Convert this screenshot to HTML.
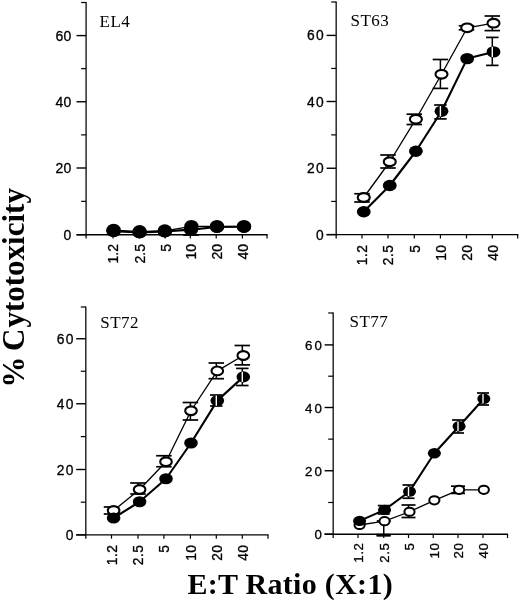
<!DOCTYPE html>
<html lang="en"><head><meta charset="utf-8"><title>% Cytotoxicity vs E:T Ratio</title>
<style>html,body{margin:0;padding:0;background:#fff}svg{display:block}.s{font-family:"Liberation Sans",Arial,Helvetica,sans-serif;fill:#000;stroke:#000;stroke-width:0.3px}.t{font-family:"Liberation Serif","Times New Roman",Times,serif;fill:#000}.b{font-family:"Liberation Serif","Times New Roman",Times,serif;font-weight:bold;fill:#000}</style></head><body>
<svg width="520" height="602" viewBox="0 0 520 602">
<rect width="520" height="602" fill="#fff"/>
<line x1="86.10" y1="1.90" x2="86.10" y2="238.60" stroke="#222" stroke-width="1.45"/>
<line x1="76.50" y1="234.70" x2="267.60" y2="234.70" stroke="#000" stroke-width="1.4"/>
<line x1="76.50" y1="234.70" x2="86.10" y2="234.70" stroke="#000" stroke-width="1.4"/>
<text class="s" x="71.20" y="239.70" font-size="14" text-anchor="end" letter-spacing="0">0</text>
<line x1="76.50" y1="168.00" x2="86.10" y2="168.00" stroke="#000" stroke-width="1.4"/>
<text class="s" x="71.20" y="173.00" font-size="14" text-anchor="end" letter-spacing="0">20</text>
<line x1="76.50" y1="101.75" x2="86.10" y2="101.75" stroke="#000" stroke-width="1.4"/>
<text class="s" x="71.20" y="106.75" font-size="14" text-anchor="end" letter-spacing="0">40</text>
<line x1="76.50" y1="35.60" x2="86.10" y2="35.60" stroke="#000" stroke-width="1.4"/>
<text class="s" x="71.20" y="40.60" font-size="14" text-anchor="end" letter-spacing="0">60</text>
<line x1="81.10" y1="201.35" x2="86.10" y2="201.35" stroke="#000" stroke-width="1.2"/>
<line x1="81.10" y1="134.88" x2="86.10" y2="134.88" stroke="#000" stroke-width="1.2"/>
<line x1="81.10" y1="68.67" x2="86.10" y2="68.67" stroke="#000" stroke-width="1.2"/>
<line x1="81.10" y1="2.50" x2="86.10" y2="2.50" stroke="#000" stroke-width="1.2"/>
<line x1="113.00" y1="234.70" x2="113.00" y2="238.50" stroke="#000" stroke-width="1.2"/>
<text class="s" transform="translate(118.40,244.00) rotate(-90)" font-size="14" text-anchor="end" letter-spacing="0">1.2</text>
<line x1="139.50" y1="234.70" x2="139.50" y2="238.50" stroke="#000" stroke-width="1.2"/>
<text class="s" transform="translate(144.90,244.00) rotate(-90)" font-size="14" text-anchor="end" letter-spacing="0">2.5</text>
<line x1="165.20" y1="234.70" x2="165.20" y2="238.50" stroke="#000" stroke-width="1.2"/>
<text class="s" transform="translate(170.60,244.00) rotate(-90)" font-size="14" text-anchor="end" letter-spacing="0">5</text>
<line x1="190.30" y1="234.70" x2="190.30" y2="238.50" stroke="#000" stroke-width="1.2"/>
<text class="s" transform="translate(195.70,244.00) rotate(-90)" font-size="14" text-anchor="end" letter-spacing="0">10</text>
<line x1="216.20" y1="234.70" x2="216.20" y2="238.50" stroke="#000" stroke-width="1.2"/>
<text class="s" transform="translate(221.60,244.00) rotate(-90)" font-size="14" text-anchor="end" letter-spacing="0">20</text>
<line x1="242.40" y1="234.70" x2="242.40" y2="238.50" stroke="#000" stroke-width="1.2"/>
<text class="s" transform="translate(247.80,244.00) rotate(-90)" font-size="14" text-anchor="end" letter-spacing="0">40</text>
<line x1="267.00" y1="234.70" x2="267.00" y2="238.50" stroke="#000" stroke-width="1.2"/>
<text class="t" x="99.6" y="26.6" font-size="17" letter-spacing="0.45">EL4</text>
<polyline points="113.60,230.20 139.60,231.60 164.80,230.80 191.40,226.40 217.00,226.40 244.00,226.40" fill="none" stroke="#000" stroke-width="1.3" stroke-linejoin="round"/>
<polyline points="113.60,231.20 139.60,232.40 164.80,231.40 191.00,229.60 217.00,227.00 244.00,226.80" fill="none" stroke="#000" stroke-width="2.1" stroke-linejoin="round"/>
<ellipse cx="113.60" cy="230.20" rx="7.2" ry="6.5" fill="#000"/>
<ellipse cx="139.60" cy="231.60" rx="7.2" ry="6.5" fill="#000"/>
<ellipse cx="164.80" cy="230.80" rx="7.2" ry="6.5" fill="#000"/>
<ellipse cx="191.40" cy="226.40" rx="7.2" ry="6.5" fill="#000"/>
<ellipse cx="217.00" cy="226.40" rx="7.2" ry="6.5" fill="#000"/>
<ellipse cx="244.00" cy="226.40" rx="7.2" ry="6.5" fill="#000"/>
<ellipse cx="113.60" cy="231.20" rx="7.2" ry="6.1" fill="#000"/>
<ellipse cx="139.60" cy="232.40" rx="7.2" ry="6.1" fill="#000"/>
<ellipse cx="164.80" cy="231.40" rx="7.2" ry="6.1" fill="#000"/>
<ellipse cx="191.00" cy="229.60" rx="7.2" ry="6.1" fill="#000"/>
<ellipse cx="217.00" cy="227.00" rx="7.2" ry="6.1" fill="#000"/>
<ellipse cx="244.00" cy="226.80" rx="7.2" ry="6.1" fill="#000"/>
<line x1="183.00" y1="235.00" x2="199.00" y2="235.00" stroke="#000" stroke-width="1.8"/>
<line x1="106.50" y1="230.50" x2="110.00" y2="230.50" stroke="#000" stroke-width="1.6"/>
<line x1="336.20" y1="1.40" x2="336.20" y2="238.50" stroke="#222" stroke-width="1.45"/>
<line x1="326.60" y1="234.60" x2="518.30" y2="234.60" stroke="#000" stroke-width="1.4"/>
<line x1="326.60" y1="234.60" x2="336.20" y2="234.60" stroke="#000" stroke-width="1.4"/>
<text class="s" x="324.80" y="239.60" font-size="13.8" text-anchor="end" letter-spacing="1.2">0</text>
<line x1="326.60" y1="168.25" x2="336.20" y2="168.25" stroke="#000" stroke-width="1.4"/>
<text class="s" x="324.80" y="173.25" font-size="13.8" text-anchor="end" letter-spacing="1.2">20</text>
<line x1="326.60" y1="101.50" x2="336.20" y2="101.50" stroke="#000" stroke-width="1.4"/>
<text class="s" x="324.80" y="106.50" font-size="13.8" text-anchor="end" letter-spacing="1.2">40</text>
<line x1="326.60" y1="35.40" x2="336.20" y2="35.40" stroke="#000" stroke-width="1.4"/>
<text class="s" x="324.80" y="40.40" font-size="13.8" text-anchor="end" letter-spacing="1.2">60</text>
<line x1="331.20" y1="201.43" x2="336.20" y2="201.43" stroke="#000" stroke-width="1.2"/>
<line x1="331.20" y1="134.88" x2="336.20" y2="134.88" stroke="#000" stroke-width="1.2"/>
<line x1="331.20" y1="68.45" x2="336.20" y2="68.45" stroke="#000" stroke-width="1.2"/>
<line x1="331.20" y1="2.00" x2="336.20" y2="2.00" stroke="#000" stroke-width="1.2"/>
<line x1="362.00" y1="234.60" x2="362.00" y2="238.40" stroke="#000" stroke-width="1.2"/>
<text class="s" transform="translate(367.40,244.50) rotate(-90)" font-size="13.8" text-anchor="end" letter-spacing="0.5">1.2</text>
<line x1="388.00" y1="234.60" x2="388.00" y2="238.40" stroke="#000" stroke-width="1.2"/>
<text class="s" transform="translate(393.40,244.50) rotate(-90)" font-size="13.8" text-anchor="end" letter-spacing="0.5">2.5</text>
<line x1="414.30" y1="234.60" x2="414.30" y2="238.40" stroke="#000" stroke-width="1.2"/>
<text class="s" transform="translate(419.70,244.50) rotate(-90)" font-size="13.8" text-anchor="end" letter-spacing="0.5">5</text>
<line x1="440.40" y1="234.60" x2="440.40" y2="238.40" stroke="#000" stroke-width="1.2"/>
<text class="s" transform="translate(445.80,244.50) rotate(-90)" font-size="13.8" text-anchor="end" letter-spacing="0.5">10</text>
<line x1="466.50" y1="234.60" x2="466.50" y2="238.40" stroke="#000" stroke-width="1.2"/>
<text class="s" transform="translate(471.90,244.50) rotate(-90)" font-size="13.8" text-anchor="end" letter-spacing="0.5">20</text>
<line x1="492.30" y1="234.60" x2="492.30" y2="238.40" stroke="#000" stroke-width="1.2"/>
<text class="s" transform="translate(497.70,244.50) rotate(-90)" font-size="13.8" text-anchor="end" letter-spacing="0.5">40</text>
<line x1="517.70" y1="234.60" x2="517.70" y2="238.40" stroke="#000" stroke-width="1.2"/>
<text class="t" x="350.6" y="26.2" font-size="17" letter-spacing="0.45">ST63</text>
<polyline points="363.75,197.50 389.75,161.75 415.90,119.20 441.50,74.30 467.20,27.80 493.50,23.20" fill="none" stroke="#000" stroke-width="1.3" stroke-linejoin="round"/>
<polyline points="363.75,211.75 389.75,185.50 415.90,151.25 441.50,111.20 467.20,58.60 493.50,51.90" fill="none" stroke="#000" stroke-width="2.1" stroke-linejoin="round"/>
<line x1="362.00" y1="193.75" x2="362.00" y2="202.00" stroke="#000" stroke-width="1.5"/>
<line x1="354.25" y1="193.75" x2="369.75" y2="193.75" stroke="#000" stroke-width="1.7"/>
<line x1="354.25" y1="202.00" x2="369.75" y2="202.00" stroke="#000" stroke-width="1.7"/>
<ellipse cx="363.75" cy="197.50" rx="6.0" ry="4.35" fill="#fff" stroke="#000" stroke-width="2.1"/>
<line x1="388.00" y1="155.00" x2="388.00" y2="168.00" stroke="#000" stroke-width="1.5"/>
<line x1="380.25" y1="155.00" x2="395.75" y2="155.00" stroke="#000" stroke-width="1.7"/>
<line x1="380.25" y1="168.00" x2="395.75" y2="168.00" stroke="#000" stroke-width="1.7"/>
<ellipse cx="389.75" cy="161.75" rx="6.0" ry="4.35" fill="#fff" stroke="#000" stroke-width="2.1"/>
<line x1="414.30" y1="114.20" x2="414.30" y2="124.50" stroke="#000" stroke-width="1.5"/>
<line x1="406.55" y1="114.20" x2="422.05" y2="114.20" stroke="#000" stroke-width="1.7"/>
<line x1="406.55" y1="124.50" x2="422.05" y2="124.50" stroke="#000" stroke-width="1.7"/>
<ellipse cx="415.90" cy="119.20" rx="6.0" ry="4.35" fill="#fff" stroke="#000" stroke-width="2.1"/>
<line x1="440.40" y1="59.50" x2="440.40" y2="88.40" stroke="#000" stroke-width="1.5"/>
<line x1="432.65" y1="59.50" x2="448.15" y2="59.50" stroke="#000" stroke-width="1.7"/>
<line x1="432.65" y1="88.40" x2="448.15" y2="88.40" stroke="#000" stroke-width="1.7"/>
<ellipse cx="441.50" cy="74.30" rx="6.0" ry="4.35" fill="#fff" stroke="#000" stroke-width="2.1"/>
<line x1="466.50" y1="25.80" x2="466.50" y2="29.80" stroke="#000" stroke-width="1.5"/>
<line x1="458.75" y1="25.80" x2="474.25" y2="25.80" stroke="#000" stroke-width="1.7"/>
<line x1="458.75" y1="29.80" x2="474.25" y2="29.80" stroke="#000" stroke-width="1.7"/>
<ellipse cx="467.20" cy="27.80" rx="6.0" ry="4.35" fill="#fff" stroke="#000" stroke-width="2.1"/>
<line x1="492.30" y1="16.00" x2="492.30" y2="30.60" stroke="#000" stroke-width="1.5"/>
<line x1="484.55" y1="16.00" x2="500.05" y2="16.00" stroke="#000" stroke-width="1.7"/>
<line x1="484.55" y1="30.60" x2="500.05" y2="30.60" stroke="#000" stroke-width="1.7"/>
<ellipse cx="493.50" cy="23.20" rx="6.0" ry="4.35" fill="#fff" stroke="#000" stroke-width="2.1"/>
<ellipse cx="363.75" cy="211.75" rx="6.9" ry="5.7" fill="#000"/>
<ellipse cx="389.75" cy="185.50" rx="6.9" ry="5.7" fill="#000"/>
<ellipse cx="415.90" cy="151.25" rx="6.9" ry="5.7" fill="#000"/>
<line x1="440.40" y1="105.00" x2="440.40" y2="118.90" stroke="#000" stroke-width="1.5"/>
<line x1="434.15" y1="105.00" x2="446.65" y2="105.00" stroke="#000" stroke-width="1.7"/>
<line x1="434.15" y1="118.90" x2="446.65" y2="118.90" stroke="#000" stroke-width="1.7"/>
<ellipse cx="441.50" cy="111.20" rx="6.9" ry="5.7" fill="#000"/>
<line x1="440.40" y1="106.00" x2="440.40" y2="116.40" stroke="#fff" stroke-width="1.4"/>
<ellipse cx="467.20" cy="58.60" rx="6.9" ry="5.7" fill="#000"/>
<line x1="492.30" y1="37.40" x2="492.30" y2="65.40" stroke="#000" stroke-width="1.5"/>
<line x1="486.05" y1="37.40" x2="498.55" y2="37.40" stroke="#000" stroke-width="1.7"/>
<line x1="486.05" y1="65.40" x2="498.55" y2="65.40" stroke="#000" stroke-width="1.7"/>
<ellipse cx="493.50" cy="51.90" rx="6.9" ry="5.7" fill="#000"/>
<line x1="492.30" y1="46.70" x2="492.30" y2="57.10" stroke="#fff" stroke-width="1.4"/>
<line x1="85.80" y1="306.40" x2="85.80" y2="538.80" stroke="#222" stroke-width="1.45"/>
<line x1="76.20" y1="534.90" x2="268.60" y2="534.90" stroke="#000" stroke-width="1.4"/>
<line x1="76.20" y1="534.90" x2="85.80" y2="534.90" stroke="#000" stroke-width="1.4"/>
<text class="s" x="75.00" y="539.90" font-size="13.8" text-anchor="end" letter-spacing="1.5">0</text>
<line x1="76.20" y1="469.50" x2="85.80" y2="469.50" stroke="#000" stroke-width="1.4"/>
<text class="s" x="75.00" y="474.50" font-size="13.8" text-anchor="end" letter-spacing="1.5">20</text>
<line x1="76.20" y1="403.75" x2="85.80" y2="403.75" stroke="#000" stroke-width="1.4"/>
<text class="s" x="75.00" y="408.75" font-size="13.8" text-anchor="end" letter-spacing="1.5">40</text>
<line x1="76.20" y1="338.75" x2="85.80" y2="338.75" stroke="#000" stroke-width="1.4"/>
<text class="s" x="75.00" y="343.75" font-size="13.8" text-anchor="end" letter-spacing="1.5">60</text>
<line x1="80.80" y1="502.20" x2="85.80" y2="502.20" stroke="#000" stroke-width="1.2"/>
<line x1="80.80" y1="436.62" x2="85.80" y2="436.62" stroke="#000" stroke-width="1.2"/>
<line x1="80.80" y1="371.25" x2="85.80" y2="371.25" stroke="#000" stroke-width="1.2"/>
<line x1="80.80" y1="307.00" x2="85.80" y2="307.00" stroke="#000" stroke-width="1.2"/>
<line x1="111.50" y1="534.90" x2="111.50" y2="538.70" stroke="#000" stroke-width="1.2"/>
<text class="s" transform="translate(116.90,544.50) rotate(-90)" font-size="13.8" text-anchor="end" letter-spacing="0.5">1.2</text>
<line x1="138.00" y1="534.90" x2="138.00" y2="538.70" stroke="#000" stroke-width="1.2"/>
<text class="s" transform="translate(143.40,544.50) rotate(-90)" font-size="13.8" text-anchor="end" letter-spacing="0.5">2.5</text>
<line x1="163.90" y1="534.90" x2="163.90" y2="538.70" stroke="#000" stroke-width="1.2"/>
<text class="s" transform="translate(169.30,544.50) rotate(-90)" font-size="13.8" text-anchor="end" letter-spacing="0.5">5</text>
<line x1="190.40" y1="534.90" x2="190.40" y2="538.70" stroke="#000" stroke-width="1.2"/>
<text class="s" transform="translate(195.80,544.50) rotate(-90)" font-size="13.8" text-anchor="end" letter-spacing="0.5">10</text>
<line x1="216.30" y1="534.90" x2="216.30" y2="538.70" stroke="#000" stroke-width="1.2"/>
<text class="s" transform="translate(221.70,544.50) rotate(-90)" font-size="13.8" text-anchor="end" letter-spacing="0.5">20</text>
<line x1="242.30" y1="534.90" x2="242.30" y2="538.70" stroke="#000" stroke-width="1.2"/>
<text class="s" transform="translate(247.70,544.50) rotate(-90)" font-size="13.8" text-anchor="end" letter-spacing="0.5">40</text>
<line x1="268.00" y1="534.90" x2="268.00" y2="538.70" stroke="#000" stroke-width="1.2"/>
<text class="t" x="100.3" y="328.4" font-size="17" letter-spacing="0.45">ST72</text>
<polyline points="113.60,510.50 139.60,489.50 166.00,461.75 191.00,410.75 217.30,370.90 243.30,355.50" fill="none" stroke="#000" stroke-width="1.3" stroke-linejoin="round"/>
<polyline points="113.60,518.00 139.60,501.75 166.00,478.75 191.00,443.00 217.30,400.60 243.30,376.90" fill="none" stroke="#000" stroke-width="2.1" stroke-linejoin="round"/>
<line x1="111.50" y1="507.00" x2="111.50" y2="514.00" stroke="#000" stroke-width="1.5"/>
<line x1="103.75" y1="507.00" x2="119.25" y2="507.00" stroke="#000" stroke-width="1.7"/>
<line x1="103.75" y1="514.00" x2="119.25" y2="514.00" stroke="#000" stroke-width="1.7"/>
<ellipse cx="113.60" cy="510.50" rx="5.8" ry="4.4" fill="#fff" stroke="#000" stroke-width="2.1"/>
<line x1="138.00" y1="483.00" x2="138.00" y2="494.00" stroke="#000" stroke-width="1.5"/>
<line x1="130.25" y1="483.00" x2="145.75" y2="483.00" stroke="#000" stroke-width="1.7"/>
<line x1="130.25" y1="494.00" x2="145.75" y2="494.00" stroke="#000" stroke-width="1.7"/>
<ellipse cx="139.60" cy="489.50" rx="5.8" ry="4.4" fill="#fff" stroke="#000" stroke-width="2.1"/>
<line x1="163.90" y1="455.75" x2="163.90" y2="466.75" stroke="#000" stroke-width="1.5"/>
<line x1="156.15" y1="455.75" x2="171.65" y2="455.75" stroke="#000" stroke-width="1.7"/>
<line x1="156.15" y1="466.75" x2="171.65" y2="466.75" stroke="#000" stroke-width="1.7"/>
<ellipse cx="166.00" cy="461.75" rx="5.8" ry="4.4" fill="#fff" stroke="#000" stroke-width="2.1"/>
<line x1="190.40" y1="402.50" x2="190.40" y2="420.00" stroke="#000" stroke-width="1.5"/>
<line x1="182.65" y1="402.50" x2="198.15" y2="402.50" stroke="#000" stroke-width="1.7"/>
<line x1="182.65" y1="420.00" x2="198.15" y2="420.00" stroke="#000" stroke-width="1.7"/>
<ellipse cx="191.00" cy="410.75" rx="5.8" ry="4.4" fill="#fff" stroke="#000" stroke-width="2.1"/>
<line x1="216.30" y1="363.00" x2="216.30" y2="378.70" stroke="#000" stroke-width="1.5"/>
<line x1="208.55" y1="363.00" x2="224.05" y2="363.00" stroke="#000" stroke-width="1.7"/>
<line x1="208.55" y1="378.70" x2="224.05" y2="378.70" stroke="#000" stroke-width="1.7"/>
<ellipse cx="217.30" cy="370.90" rx="5.8" ry="4.4" fill="#fff" stroke="#000" stroke-width="2.1"/>
<line x1="242.30" y1="345.50" x2="242.30" y2="364.90" stroke="#000" stroke-width="1.5"/>
<line x1="234.55" y1="345.50" x2="250.05" y2="345.50" stroke="#000" stroke-width="1.7"/>
<line x1="234.55" y1="364.90" x2="250.05" y2="364.90" stroke="#000" stroke-width="1.7"/>
<ellipse cx="243.30" cy="355.50" rx="5.8" ry="4.4" fill="#fff" stroke="#000" stroke-width="2.1"/>
<ellipse cx="113.60" cy="518.00" rx="6.8" ry="5.6" fill="#000"/>
<ellipse cx="139.60" cy="501.75" rx="6.8" ry="5.6" fill="#000"/>
<ellipse cx="166.00" cy="478.75" rx="6.8" ry="5.6" fill="#000"/>
<ellipse cx="191.00" cy="443.00" rx="6.8" ry="5.6" fill="#000"/>
<line x1="216.30" y1="395.00" x2="216.30" y2="406.00" stroke="#000" stroke-width="1.5"/>
<line x1="210.05" y1="395.00" x2="222.55" y2="395.00" stroke="#000" stroke-width="1.7"/>
<line x1="210.05" y1="406.00" x2="222.55" y2="406.00" stroke="#000" stroke-width="1.7"/>
<ellipse cx="217.30" cy="400.60" rx="6.8" ry="5.6" fill="#000"/>
<line x1="216.30" y1="395.50" x2="216.30" y2="405.70" stroke="#fff" stroke-width="1.4"/>
<line x1="242.30" y1="368.40" x2="242.30" y2="385.50" stroke="#000" stroke-width="1.5"/>
<line x1="236.05" y1="368.40" x2="248.55" y2="368.40" stroke="#000" stroke-width="1.7"/>
<line x1="236.05" y1="385.50" x2="248.55" y2="385.50" stroke="#000" stroke-width="1.7"/>
<ellipse cx="243.30" cy="376.90" rx="6.8" ry="5.6" fill="#000"/>
<line x1="242.30" y1="371.80" x2="242.30" y2="382.00" stroke="#fff" stroke-width="1.4"/>
<line x1="333.20" y1="312.40" x2="333.20" y2="538.10" stroke="#222" stroke-width="1.45"/>
<line x1="324.60" y1="534.20" x2="508.10" y2="534.20" stroke="#000" stroke-width="1.4"/>
<line x1="324.60" y1="534.20" x2="333.20" y2="534.20" stroke="#000" stroke-width="1.4"/>
<text class="s" x="323.80" y="539.20" font-size="13.3" text-anchor="end" letter-spacing="2.0">0</text>
<line x1="324.60" y1="470.75" x2="333.20" y2="470.75" stroke="#000" stroke-width="1.4"/>
<text class="s" x="323.80" y="475.75" font-size="13.3" text-anchor="end" letter-spacing="2.0">20</text>
<line x1="324.60" y1="407.50" x2="333.20" y2="407.50" stroke="#000" stroke-width="1.4"/>
<text class="s" x="323.80" y="412.50" font-size="13.3" text-anchor="end" letter-spacing="2.0">40</text>
<line x1="324.60" y1="344.90" x2="333.20" y2="344.90" stroke="#000" stroke-width="1.4"/>
<text class="s" x="323.80" y="349.90" font-size="13.3" text-anchor="end" letter-spacing="2.0">60</text>
<line x1="328.20" y1="502.48" x2="333.20" y2="502.48" stroke="#000" stroke-width="1.2"/>
<line x1="328.20" y1="439.12" x2="333.20" y2="439.12" stroke="#000" stroke-width="1.2"/>
<line x1="328.20" y1="376.20" x2="333.20" y2="376.20" stroke="#000" stroke-width="1.2"/>
<line x1="328.20" y1="313.00" x2="333.20" y2="313.00" stroke="#000" stroke-width="1.2"/>
<line x1="358.00" y1="534.20" x2="358.00" y2="538.00" stroke="#000" stroke-width="1.2"/>
<text class="s" transform="translate(363.40,542.40) rotate(-90)" font-size="13.3" text-anchor="end" letter-spacing="0.6">1.2</text>
<line x1="383.75" y1="534.20" x2="383.75" y2="538.00" stroke="#000" stroke-width="1.2"/>
<text class="s" transform="translate(389.15,542.40) rotate(-90)" font-size="13.3" text-anchor="end" letter-spacing="0.6">2.5</text>
<line x1="408.50" y1="534.20" x2="408.50" y2="538.00" stroke="#000" stroke-width="1.2"/>
<text class="s" transform="translate(413.90,542.40) rotate(-90)" font-size="13.3" text-anchor="end" letter-spacing="0.6">5</text>
<line x1="433.25" y1="534.20" x2="433.25" y2="538.00" stroke="#000" stroke-width="1.2"/>
<text class="s" transform="translate(438.65,542.40) rotate(-90)" font-size="13.3" text-anchor="end" letter-spacing="0.6">10</text>
<line x1="458.00" y1="534.20" x2="458.00" y2="538.00" stroke="#000" stroke-width="1.2"/>
<text class="s" transform="translate(463.40,542.40) rotate(-90)" font-size="13.3" text-anchor="end" letter-spacing="0.6">20</text>
<line x1="483.00" y1="534.20" x2="483.00" y2="538.00" stroke="#000" stroke-width="1.2"/>
<text class="s" transform="translate(488.40,542.40) rotate(-90)" font-size="13.3" text-anchor="end" letter-spacing="0.6">40</text>
<line x1="507.50" y1="534.20" x2="507.50" y2="538.00" stroke="#000" stroke-width="1.2"/>
<text class="t" x="349.6" y="326.9" font-size="17" letter-spacing="0.45">ST77</text>
<polyline points="359.60,525.00 384.55,521.20 409.50,511.75 434.35,500.30 459.10,489.80 483.80,489.80" fill="none" stroke="#000" stroke-width="1.3" stroke-linejoin="round"/>
<polyline points="359.60,520.90 384.55,509.90 409.50,491.50 434.35,453.25 459.10,426.25 483.80,398.75" fill="none" stroke="#000" stroke-width="2.1" stroke-linejoin="round"/>
<ellipse cx="359.60" cy="525.00" rx="5.1" ry="4.1" fill="#fff" stroke="#000" stroke-width="2.0"/>
<line x1="383.75" y1="521.00" x2="383.75" y2="535.30" stroke="#000" stroke-width="1.5"/>
<line x1="376.75" y1="521.00" x2="390.75" y2="521.00" stroke="#000" stroke-width="1.7"/>
<line x1="376.75" y1="535.30" x2="390.75" y2="535.30" stroke="#000" stroke-width="1.7"/>
<ellipse cx="384.55" cy="521.20" rx="5.1" ry="4.1" fill="#fff" stroke="#000" stroke-width="2.0"/>
<line x1="408.50" y1="505.00" x2="408.50" y2="517.50" stroke="#000" stroke-width="1.5"/>
<line x1="401.50" y1="505.00" x2="415.50" y2="505.00" stroke="#000" stroke-width="1.7"/>
<line x1="401.50" y1="517.50" x2="415.50" y2="517.50" stroke="#000" stroke-width="1.7"/>
<ellipse cx="409.50" cy="511.75" rx="5.1" ry="4.1" fill="#fff" stroke="#000" stroke-width="2.0"/>
<ellipse cx="434.35" cy="500.30" rx="5.1" ry="4.1" fill="#fff" stroke="#000" stroke-width="2.0"/>
<line x1="458.00" y1="486.20" x2="458.00" y2="493.40" stroke="#000" stroke-width="1.5"/>
<line x1="451.00" y1="486.20" x2="465.00" y2="486.20" stroke="#000" stroke-width="1.7"/>
<line x1="451.00" y1="493.40" x2="465.00" y2="493.40" stroke="#000" stroke-width="1.7"/>
<ellipse cx="459.10" cy="489.80" rx="5.1" ry="4.1" fill="#fff" stroke="#000" stroke-width="2.0"/>
<ellipse cx="483.80" cy="489.80" rx="5.1" ry="4.1" fill="#fff" stroke="#000" stroke-width="2.0"/>
<ellipse cx="359.60" cy="520.90" rx="6.5" ry="5.2" fill="#000"/>
<line x1="383.75" y1="505.60" x2="383.75" y2="514.00" stroke="#000" stroke-width="1.5"/>
<line x1="377.75" y1="505.60" x2="389.75" y2="505.60" stroke="#000" stroke-width="1.7"/>
<line x1="377.75" y1="514.00" x2="389.75" y2="514.00" stroke="#000" stroke-width="1.7"/>
<ellipse cx="384.55" cy="509.90" rx="6.5" ry="5.2" fill="#000"/>
<line x1="408.50" y1="485.00" x2="408.50" y2="498.25" stroke="#000" stroke-width="1.5"/>
<line x1="402.50" y1="485.00" x2="414.50" y2="485.00" stroke="#000" stroke-width="1.7"/>
<line x1="402.50" y1="498.25" x2="414.50" y2="498.25" stroke="#000" stroke-width="1.7"/>
<ellipse cx="409.50" cy="491.50" rx="6.5" ry="5.2" fill="#000"/>
<line x1="408.50" y1="486.80" x2="408.50" y2="496.20" stroke="#fff" stroke-width="1.4"/>
<ellipse cx="434.35" cy="453.25" rx="6.5" ry="5.2" fill="#000"/>
<line x1="458.00" y1="420.00" x2="458.00" y2="433.00" stroke="#000" stroke-width="1.5"/>
<line x1="452.00" y1="420.00" x2="464.00" y2="420.00" stroke="#000" stroke-width="1.7"/>
<line x1="452.00" y1="433.00" x2="464.00" y2="433.00" stroke="#000" stroke-width="1.7"/>
<ellipse cx="459.10" cy="426.25" rx="6.5" ry="5.2" fill="#000"/>
<line x1="458.00" y1="421.55" x2="458.00" y2="430.95" stroke="#fff" stroke-width="1.4"/>
<line x1="483.00" y1="393.00" x2="483.00" y2="405.00" stroke="#000" stroke-width="1.5"/>
<line x1="477.00" y1="393.00" x2="489.00" y2="393.00" stroke="#000" stroke-width="1.7"/>
<line x1="477.00" y1="405.00" x2="489.00" y2="405.00" stroke="#000" stroke-width="1.7"/>
<ellipse cx="483.80" cy="398.75" rx="6.5" ry="5.2" fill="#000"/>
<line x1="483.00" y1="394.05" x2="483.00" y2="403.45" stroke="#fff" stroke-width="1.4"/>
<line x1="376.50" y1="535.20" x2="390.60" y2="535.20" stroke="#000" stroke-width="2.8"/>
<text class="b" x="187.4" y="593.7" font-size="30" letter-spacing="0.3">E:T Ratio (X:1)</text>
<text class="b" transform="translate(23.8,387.4) rotate(-90)" font-size="31">%<tspan dx="-2.3"> </tspan>C<tspan dx="1.0">ytotoxicity</tspan></text>
</svg></body></html>
